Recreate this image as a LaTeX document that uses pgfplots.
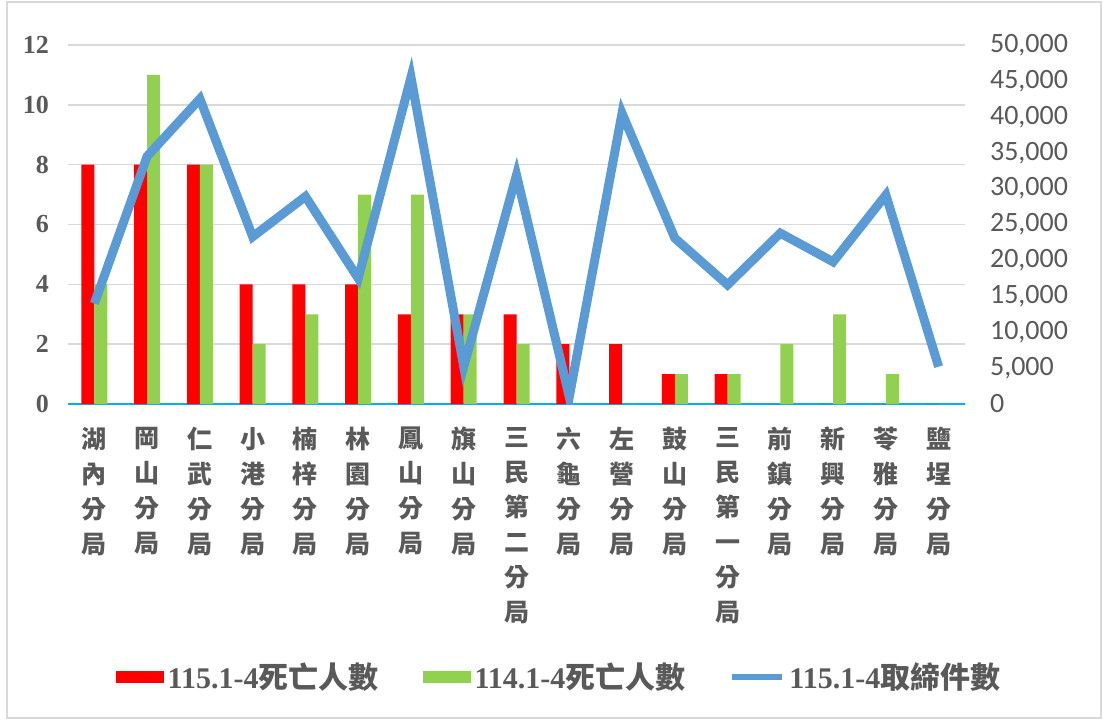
\documentclass[border=0pt]{standalone}
\usepackage{fontspec}
\usepackage{pgfplots}
\pgfplotsset{compat=1.18}
\setmainfont{Liberation Serif}
\newfontfamily\cjk{Noto Sans CJK TC}
\newfontfamily\carlito{Carlito}
\definecolor{redbar}{HTML}{FF0000}
\definecolor{greenbar}{HTML}{92D050}
\definecolor{blueline}{HTML}{5B9BD5}
\definecolor{txt}{HTML}{595959}
\definecolor{gridc}{HTML}{D9D9D9}
\definecolor{zeroc}{HTML}{00B0F0}
\begin{document}
\begin{tikzpicture}
\path (0pt,0pt) rectangle (555.5pt,360pt);
\draw[color=gridc, line width=0.75pt] (3.5pt,1pt) rectangle (550.5pt,359pt);
\begin{axis}[
  at={(34pt,158pt)}, anchor=south west, scale only axis,
  width=448.5pt, height=179.5pt,
  xmin=-0.5, xmax=16.5, ymin=0, ymax=12,
  ytick={0,2,...,12},
  xtick={0,...,16},
  xticklabels={{湖\\內\\分\\局},{岡\\山\\分\\局},{仁\\武\\分\\局},{小\\港\\分\\局},{楠\\梓\\分\\局},{林\\園\\分\\局},{鳳\\山\\分\\局},{旗\\山\\分\\局},{三\\民\\第\\二\\分\\局},{六\\龜\\分\\局},{左\\營\\分\\局},{鼓\\山\\分\\局},{三\\民\\第\\一\\分\\局},{前\\鎮\\分\\局},{新\\興\\分\\局},{苓\\雅\\分\\局},{鹽\\埕\\分\\局}},
  xticklabel style={font=\cjk\bfseries\fontsize{12.5}{17.5}\selectfont, text=txt, align=center, anchor=north, yshift=-8pt},
  yticklabel style={font=\bfseries\fontsize{13}{15}\selectfont, text=txt, anchor=east, xshift=-6pt},
  /pgf/number format/assume math mode=true,
  axis line style={draw=none},
  major tick length=0pt,
  ymajorgrids, major grid style={color=gridc, line width=0.75pt},
  extra y ticks={0}, extra y tick labels={},
  extra y tick style={grid=major, major grid style={color=zeroc, line width=0.75pt}},
  ybar=0pt, bar width=6.5pt,
  legend columns=3,
  legend style={draw=none, at={(0.5485,-0.760)}, anchor=center,
    font=\bfseries\fontsize{15}{18}\selectfont, text=txt,
    /tikz/every even column/.append style={column sep=20pt},
    /tikz/every odd column/.append style={column sep=0pt}},
]
\addplot[fill=redbar, draw=none, legend image code/.code={\fill[redbar] (0pt,-3pt) rectangle (24pt,3pt);}] coordinates {
(0,8) (1,8) (2,8) (3,4) (4,4) (5,4) (6,3) (7,3) (8,3) (9,2) (10,2) (11,1) (12,1) (13,0) (14,0) (15,0) (16,0)};
\addlegendentry{115.1-4{\cjk 死亡人數}}
\addplot[fill=greenbar, draw=none, legend image code/.code={\fill[greenbar] (0pt,-3pt) rectangle (24pt,3pt);}] coordinates {
(0,4) (1,11) (2,8) (3,2) (4,3) (5,7) (6,7) (7,3) (8,2) (9,0) (10,0) (11,1) (12,1) (13,2) (14,3) (15,1) (16,0)};
\addlegendentry{114.1-4{\cjk 死亡人數}}
\addlegendimage{legend image code/.code={\draw[blueline, line width=3pt] (0pt,0pt) -- (25pt,0pt);}}
\addlegendentry{115.1-4{\cjk 取締件數}}
\end{axis}
\begin{axis}[
  at={(34pt,158pt)}, anchor=south west, scale only axis,
  width=448.5pt, height=179.5pt,
  xmin=-0.5, xmax=16.5, ymin=0, ymax=50000,
  axis y line*=right, hide x axis,
  axis line style={draw=none},
  major tick length=0pt,
  ytick={0,5000,...,50000},
  scaled y ticks=false,
  /pgf/number format/assume math mode=true,
  yticklabel style={font=\carlito\fontsize{14}{16}\selectfont, text=txt, anchor=west, xshift=9pt,
    /pgf/number format/.cd, fixed, 1000 sep={,}},
]
\addplot[blueline, line width=4.5pt, mark=none] coordinates {
(0,14000) (1,34500) (2,42500) (3,23300) (4,28900) (5,17500) (6,45500) (7,5200) (8,31900) (9,1000) (10,40500) (11,23100) (12,16600) (13,23800) (14,19800) (15,29100) (16,5200)};
\end{axis}
\end{tikzpicture}
\end{document}
